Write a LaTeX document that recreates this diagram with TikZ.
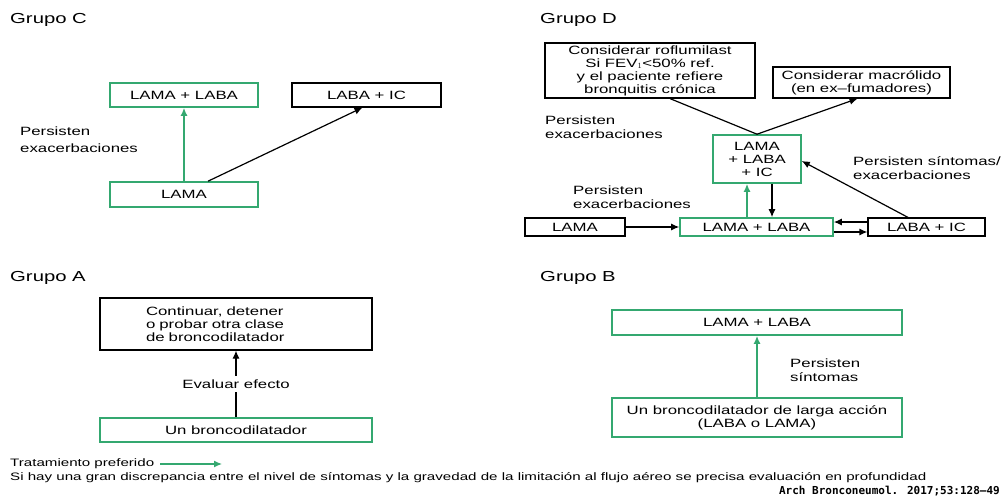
\documentclass[tikz,border=0pt]{standalone}
\usepackage{fontspec}
\setmainfont{Liberation Sans}[FakeStretch=1.4]
\newfontfamily\citefont{DejaVu Sans Mono}
\usetikzlibrary{arrows.meta}
\definecolor{gr}{RGB}{52,168,112}
\tikzset{
  box/.style={draw=black, line width=1.2pt, inner sep=0pt, align=center},
  gbox/.style={draw=gr, line width=1.6pt, inner sep=0pt, align=center},
  arr/.style={line width=1.2pt, -{Latex[length=8pt,width=7pt]}},
  garr/.style={draw=gr, line width=1.6pt, -{Latex[length=8pt,width=7pt]}, color=gr},
  ttl/.style={anchor=west, inner sep=0pt, font=\fontsize{14.5}{16}\selectfont},
  lbl/.style={anchor=west, inner sep=0pt, align=left, font=\fontsize{12}{14}\selectfont},
}
\begin{document}
\begin{tikzpicture}[x=1pt,y=-1pt,font=\fontsize{12}{13}\selectfont]
\useasboundingbox (0,0) rectangle (1008,496);
% ---------- Grupo C
\node[ttl] (tC) at (10,20) {Grupo C};
\node[gbox, minimum width=148, minimum height=24] (c1) at (184,95) {LAMA + LABA};
\node[box, minimum width=149, minimum height=24] (c2) at (366.5,95) {LABA + IC};
\node[gbox, minimum width=148, minimum height=25] (c3) at (184,194.5) {LAMA};
\node[lbl, font=\fontsize{12}{17}\selectfont] (lC) at (20,139.5) {Persisten\\exacerbaciones};
\draw[garr] (c3.north) -- (c1.south);
\draw[arr] ([xshift=24pt]c3.north) -- ([xshift=-4pt]c2.south);
% ---------- Grupo D
\node[ttl] (tD) at (540,20) {Grupo D};
\node[box, minimum width=210, minimum height=55] (d1) at (650,70.5) {Considerar roflumilast\\Si FEV$_1$<50\% ref.\\y el paciente refiere\\bronquitis crónica};
\node[box, minimum width=177, minimum height=31] (d2) at (861.5,82.5) {Considerar macrólido\\(en ex–fumadores)};
\node[gbox, minimum width=88, minimum height=48] (d3) at (757,159) {LAMA\\+ LABA\\+ IC};
\node[box, minimum width=100, minimum height=18] (d4) at (575,227) {LAMA};
\node[gbox, minimum width=153, minimum height=18] (d5) at (756.5,227) {LAMA + LABA};
\node[box, minimum width=117, minimum height=18] (d6) at (926.5,227) {LABA + IC};
\node[lbl] (lD1) at (545,127) {Persisten\\exacerbaciones};
\node[lbl] (lD2) at (573,197) {Persisten\\exacerbaciones};
\node[lbl] (lD3) at (853,168) {Persisten síntomas/\\exacerbaciones};
\draw[line width=1.2pt] (d3.north) -- ([xshift=20pt]d1.south);
\draw[arr] (d3.north) -- ([xshift=-4pt]d2.south);
\draw[arr] (d4.east) -- (d5.west);
\draw[garr] ([xshift=-9.5pt]d5.north) -- ([xshift=-10pt]d3.south);
\draw[arr] ([xshift=15pt]d3.south) -- ([xshift=15.5pt]d5.north);
\draw[arr] ([yshift=5pt]d6.west) -- ([yshift=5pt]d5.east);
\draw[arr] ([yshift=-5pt]d5.east) -- ([yshift=-5pt]d6.west);
\draw[arr] ([xshift=-18.5pt]d6.north) -- ([yshift=-2pt]d3.east);
% ---------- Grupo A
\node[ttl] (tA) at (10,278) {Grupo A};
\node[box, align=left, inner xsep=46pt, text width=180pt, minimum height=52] (a1) at (236,324) {Continuar, detener\\o probar otra clase\\de broncodilatador};
\node[gbox, minimum width=272, minimum height=24] (a2) at (236,430) {Un broncodilatador};
\draw[arr] (a2.north) -- node[fill=white, inner sep=4pt] (lA) {Evaluar efecto} (a1.south);
% ---------- Grupo B
\node[ttl] (tB) at (540,278) {Grupo B};
\node[gbox, minimum width=290, minimum height=25] (b1) at (757,322.5) {LAMA + LABA};
\node[gbox, minimum width=290, minimum height=39] (b2) at (757,417.5) {Un broncodilatador de larga acción\\(LABA o LAMA)};
\node[lbl] (lB) at (790,370) {Persisten\\síntomas};
\draw[garr] (b2.north) -- (b1.south);
% ---------- legend
\node[anchor=west, inner sep=0pt, font=\fontsize{10.8}{12}\selectfont] (leg) at (10,464) {Tratamiento preferido};
\coordinate (g1) at (160,464);
\coordinate (g2) at (222,464);
\draw[garr, line width=1.3pt] (g1) -- (g2);
\node[anchor=west, inner sep=0pt, font=\fontsize{10.8}{12}\selectfont] (fn) at (10,478) {Si hay una gran discrepancia entre el nivel de síntomas y la gravedad de la limitación al flujo aéreo se precisa evaluación en profundidad};
\node[anchor=east, inner sep=0pt, font=\citefont\bfseries\fontsize{11}{12}\selectfont] (cite) at (1000,491) {Arch Bronconeumol. 2017;53:128–49};
\end{tikzpicture}
\end{document}
